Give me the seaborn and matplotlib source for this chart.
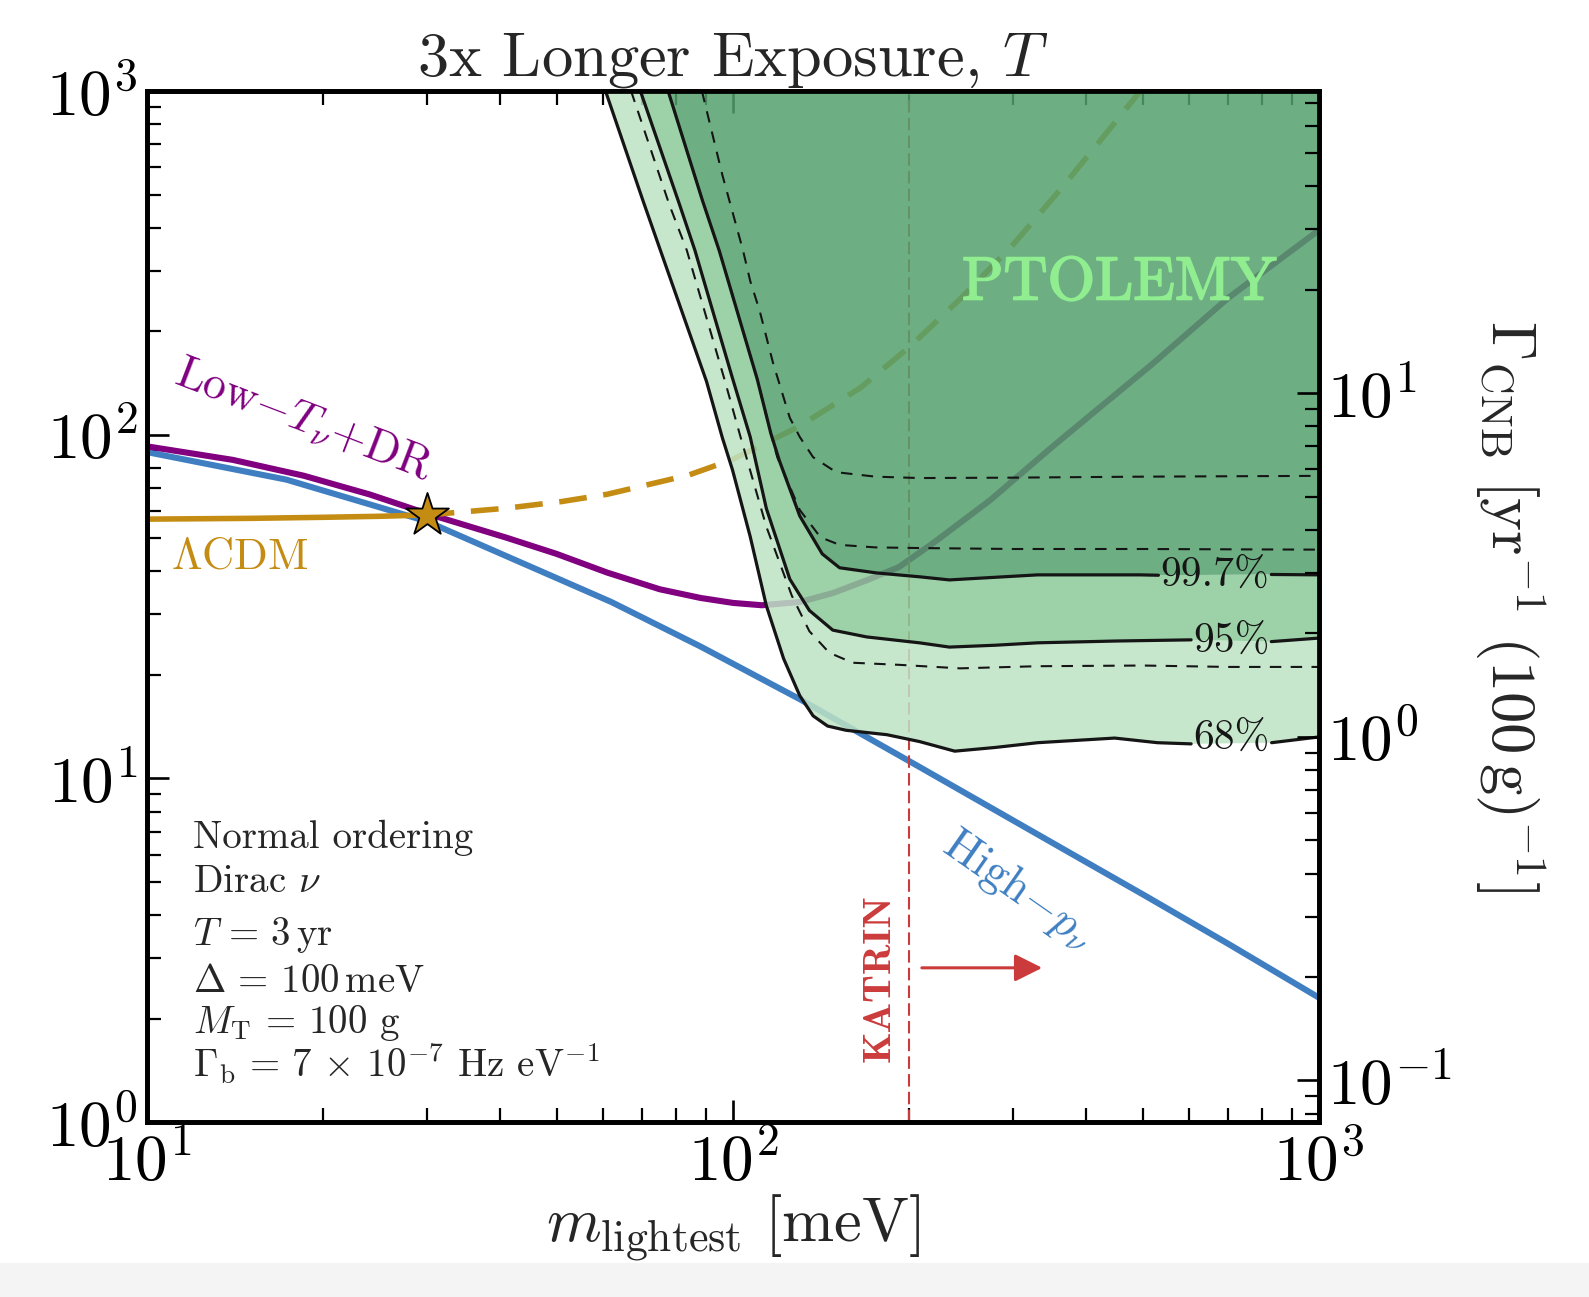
import numpy as np
import matplotlib
matplotlib.use("Agg")
import matplotlib.pyplot as plt
import matplotlib.patheffects as pe
import seaborn as sns
from matplotlib.patches import Rectangle

# ---------------- data ----------------
# High-p_nu prediction (blue)
M_HIGHP = [10, 17.3, 30, 62, 88, 130, 208, 374, 500, 700, 1000]
G_HIGHP = [89, 74, 56, 32.6, 24.2, 17.0, 10.8, 6.1, 4.6, 3.3, 2.3]

# Low-T_nu + DR prediction (purple)
M_LOWT = [10, 14, 18.5, 24, 30, 41, 50, 61, 75, 88, 100, 112, 130, 148, 169,
          192, 220, 275, 350, 518, 700, 1000]
G_LOWT = [92.5, 84.5, 76, 67, 59, 50.2, 45, 39.7, 35.5, 33.5, 32.4, 31.9, 32.6,
          34.6, 37.7, 41.2, 48.5, 64.6, 92, 160, 250, 394]

# LambdaCDM (gold): solid up to the star, dashed beyond
M_LCDM_SOLID = [10, 15, 20, 25, 30]
G_LCDM_SOLID = [56.8, 57.1, 57.5, 57.9, 58.4]
M_LCDM_DASH = [30, 41, 51, 61, 84, 100, 130, 165, 200, 244, 300, 365, 440, 490, 510]
G_LCDM_DASH = [58.4, 61.1, 63.9, 67.1, 76.3, 84.8, 106, 137, 180, 248, 356,
               526, 778, 977, 1064]

STAR_M = [30]
STAR_G = [58.4]

# PTOLEMY sensitivity contours, 3x exposure (solid)
M68 = [60.6, 70.2, 75.0, 90.1, 95.9, 99.8, 107, 114, 122, 130, 137, 145, 156,
       183, 208, 239, 280, 331, 448, 530, 605, 830, 1000]
G68 = [1000, 480, 348, 143, 98, 79, 50.5, 31.8, 22.3, 17.4, 15.2, 14.2,
       13.8, 13.4, 12.8, 12.0, 12.3, 12.7, 13.1, 12.7, 12.6, 12.7, 13.2]
M95 = [69.5, 81.1, 86.1, 99.8, 107, 114, 125, 135, 148, 169, 208, 234, 280,
       331, 450, 605, 829, 1000]
G95 = [1000, 466, 344, 146, 98.5, 61, 38, 30.8, 27.0, 25.8, 24.8, 24.1,
       24.4, 24.8, 25.1, 25.3, 25.0, 25.6]
M997 = [77.5, 88.7, 94.8, 110, 116, 120, 130, 142, 152, 176, 208, 234, 331,
        495, 532, 829, 1000]
G997 = [1000, 480, 342, 145, 101, 84, 58, 45, 41, 39.6, 38.6, 37.8,
        39.1, 39.1, 39.0, 39.2, 39.1]

# original exposure contours (dashed)
M68_OLD = [67.0, 77.9, 83.4, 96.8, 103, 114, 126, 135, 146, 160, 192, 244,
           330, 500, 700, 1000]
G68_OLD = [1000, 466, 344, 144, 98.5, 54, 34, 26.8, 23.2, 21.7, 21.4,
           20.9, 21.2, 21.3, 21.1, 21.1]
M95_OLD = [77.5, 88.7, 94.8, 110, 116, 119, 130, 141, 152, 175, 208, 300, 500,
           700, 1000]
G95_OLD = [1000, 480, 342, 145, 101, 86, 60.4, 50.3, 47.8, 47.0, 46.8,
           46.5, 46.5, 46.4, 46.3]
M997_OLD = [88.5, 95.9, 104, 107, 111, 117, 125, 130, 137, 150, 175, 208, 300,
            500, 700, 1000]
G997_OLD = [1000, 570, 344, 280, 230, 162, 112, 98.5, 86, 77.8, 75.5, 74.8,
            75.0, 75.5, 75.7, 75.9]

CONTOUR_LABELS = ["99.7%", "95%", "68%"]
LABEL_M = [663, 710, 710]
LABEL_G = [39.1, 25.1, 13.1]
LABEL_GAPS = [(532, 829), (605, 829), (605, 830)]

KATRIN_M = 200
ARROW_M = (210, 337)
ARROW_G = 2.81

RATE_FACTOR = 0.0757   # right axis: Gamma_CNB per 100 g and yr

XLIM = (10, 1000)
YLIM = (1, 1000)

INFO_LINES = ["Normal ordering", r"Dirac $\nu$", r"$T\,=\,3\,\mathrm{yr}$",
              r"$\Delta\,=\,100\,\mathrm{meV}$", r"$M_{\mathrm{T}}\,=\,100$ g",
              r"$\Gamma_{\mathrm{b}}\,=\,7\,\times\,10^{-7}$ Hz eV$^{-1}$"]
INFO_Y = [0.266, 0.223, 0.172, 0.126, 0.0863, 0.0436]

# ---------------- style ----------------
sns.set_style("ticks")
plt.rcParams.update({
    "font.family": ["cmr10", "DejaVu Serif"],
    "mathtext.fontset": "cm",
    "axes.formatter.use_mathtext": True,
    "axes.linewidth": 3.4,
    "axes.edgecolor": "black",
    "xtick.color": "black",
    "ytick.color": "black",
})

BLUE = "#3f7fc1"
PURPLE = "#800080"
GOLD = "#c58c14"
RED = "#cc3b3b"
C_LIGHT = "#bee3c5"
C_MED = "#8ccb99"
C_DARK = "#53a16d"
FILL_ALPHA = 0.85
INK = "#151515"

fig = plt.figure(figsize=(15.89, 12.97), dpi=100)
fig.patches.append(Rectangle((0, 0), 1, 0.026, transform=fig.transFigure,
                             facecolor="#f4f4f4", edgecolor="none", zorder=-10))
ax = fig.add_axes([0.0925, 0.1349, 0.7376, 0.7949])
ax.set_xscale("log")
ax.set_yscale("log")
ax.set_xlim(*XLIM)
ax.set_ylim(*YLIM)


def line(m, g, **kw):
    sns.lineplot(x=np.asarray(m, float), y=np.asarray(g, float), ax=ax,
                 sort=False, estimator=None, legend=False, **kw)


# model curves (under the shaded regions)
line(M_HIGHP, G_HIGHP, color=BLUE, lw=4.4, zorder=2, solid_joinstyle="round")
line(M_LOWT, G_LOWT, color=PURPLE, lw=4.4, zorder=2, solid_joinstyle="round")
line(M_LCDM_SOLID, G_LCDM_SOLID, color=GOLD, lw=4.0, zorder=2)
line(M_LCDM_DASH, G_LCDM_DASH, color=GOLD, lw=4.0, zorder=2,
     linestyle=(0, (5, 3)))
ax.axvline(KATRIN_M, color=RED, lw=1.5, linestyle=(0, (6, 2.5)), zorder=2)

# shaded PTOLEMY regions
ax.fill(np.r_[M68, M95[::-1]], np.r_[G68, G95[::-1]], color=C_LIGHT,
        alpha=FILL_ALPHA, lw=0, zorder=3)
ax.fill(np.r_[M95, M997[::-1]], np.r_[G95, G997[::-1]], color=C_MED,
        alpha=FILL_ALPHA, lw=0, zorder=3)
ax.fill(np.r_[M997, XLIM[1]], np.r_[G997, YLIM[1]], color=C_DARK,
        alpha=FILL_ALPHA, lw=0, zorder=3)

# contour lines with gaps for inline labels
for (m, g), (lo, hi) in zip([(M997, G997), (M95, G95), (M68, G68)], LABEL_GAPS):
    m = np.asarray(m, float)
    g = np.asarray(g, float)
    left = m <= lo
    right = m >= hi
    line(m[left], g[left], color=INK, lw=2.3, zorder=4, solid_joinstyle="round")
    line(m[right], g[right], color=INK, lw=2.3, zorder=4)

for m, g in [(M68_OLD, G68_OLD), (M95_OLD, G95_OLD), (M997_OLD, G997_OLD)]:
    line(m, g, color=INK, lw=1.5, zorder=4, linestyle=(0, (5.5, 4.5)))

for txt, lm, lg in zip(CONTOUR_LABELS, LABEL_M, LABEL_G):
    ax.text(lm, lg, txt, fontsize=30, ha="center", va="center",
            color=INK, zorder=5)

# star
sns.scatterplot(x=STAR_M, y=STAR_G, ax=ax, marker="*", s=1050, color=GOLD,
                edgecolor="black", linewidth=1.3, zorder=6, legend=False)

# annotations
ax.text(18.5, 110, r"$\mathrm{Low}{-}T_{\nu}{+}\mathrm{DR}$", color=PURPLE,
        fontsize=33, rotation=-21, ha="center", va="center",
        rotation_mode="anchor", zorder=6)
ax.text(14.4, 44, r"$\Lambda\mathrm{CDM}$", color=GOLD, fontsize=32,
        ha="center", va="center", zorder=6)
ax.text(307, 4.74, r"$\mathrm{High}{-}p_{\nu}$", color=BLUE, fontsize=33,
        rotation=-35, ha="center", va="center", rotation_mode="anchor",
        zorder=6)
ax.text(456, 275, "PTOLEMY", color="#90ee90", fontsize=44, ha="center",
        va="center", zorder=6,
        path_effects=[pe.withStroke(linewidth=1.3, foreground="#90ee90")])
ax.text(178, 2.62, "KATRIN", color=RED, fontsize=29, fontfamily="cmb10",
        rotation=90, ha="center", va="center", zorder=6)
ax.annotate("", xy=(ARROW_M[1], ARROW_G), xytext=(ARROW_M[0], ARROW_G),
            arrowprops=dict(arrowstyle="-|>", color=RED, lw=2.2,
                            mutation_scale=42, shrinkA=0, shrinkB=0),
            zorder=6)

for txt, yy in zip(INFO_LINES, INFO_Y):
    ax.text(0.039, yy, txt, transform=ax.transAxes, fontsize=28,
            ha="left", va="baseline", zorder=6)

# axes decoration
ax.set_title(r"3x Longer Exposure, $T$", fontsize=45, pad=11)
ax.set_xlabel(r"$m_{\mathrm{lightest}}\ [\mathrm{meV}]$", fontsize=45)
ax.xaxis.set_label_coords(0.5, -0.068)
ax.tick_params(axis="both", which="both", direction="in", top=True,
               right=False, labelsize=47)
ax.tick_params(axis="both", which="major", length=16, width=1.9)
ax.tick_params(axis="both", which="minor", length=10, width=1.6)
ax.tick_params(axis="x", which="major", pad=7)
ax.tick_params(axis="y", which="major", pad=7)

ax2 = ax.twinx()
ax2.set_yscale("log")
ax2.set_ylim(YLIM[0] * RATE_FACTOR, YLIM[1] * RATE_FACTOR)
ax2.tick_params(axis="y", which="both", direction="in", right=True,
                left=False, labelsize=47)
ax2.tick_params(axis="y", which="major", length=16, width=1.9, pad=6)
ax2.tick_params(axis="y", which="minor", length=10, width=1.6)
ax2.set_ylabel(r"$\Gamma_{\mathrm{CNB}}\ [\mathrm{yr}^{-1}\ (100\,\mathrm{g})^{-1}]$",
               fontsize=45, rotation=270)
ax2.yaxis.label.set_va("center")
ax2.yaxis.set_label_coords(1.163, 0.5)
for s in ax2.spines.values():
    s.set_linewidth(3.4)

fig.savefig("out.png", dpi=100)
